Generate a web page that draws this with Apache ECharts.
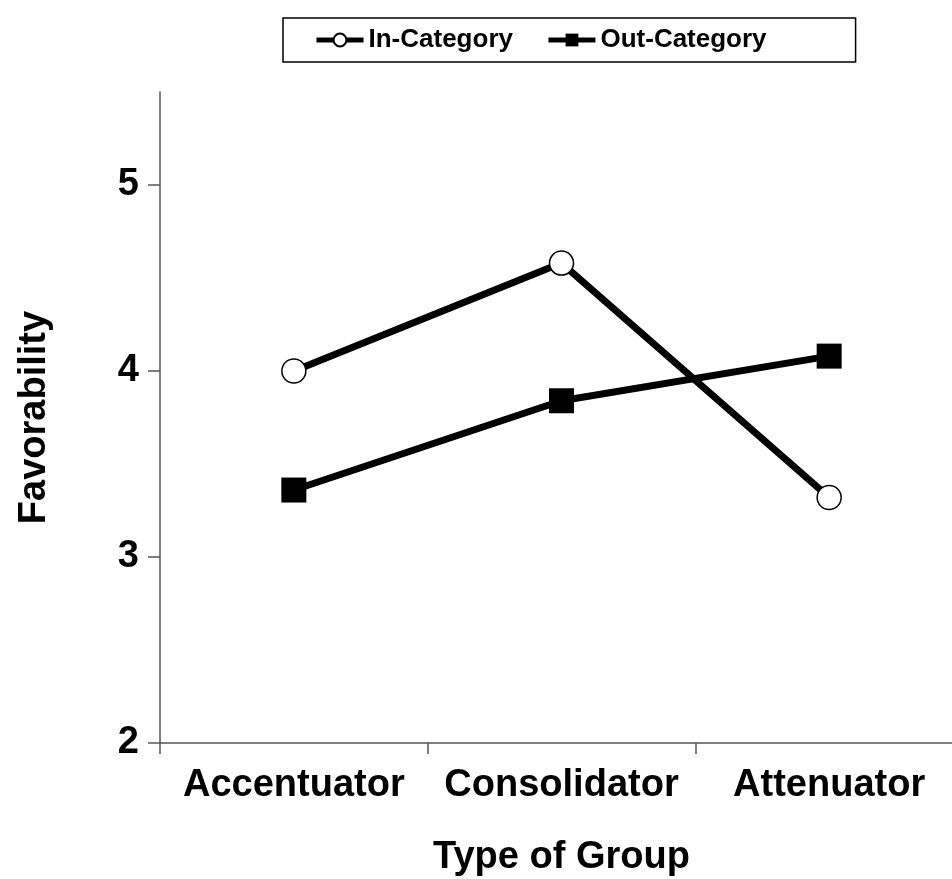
<!DOCTYPE html>
<html>
<head>
<meta charset="utf-8">
<script src="https://cdn.jsdelivr.net/npm/echarts@6/dist/echarts.min.js"></script>
<style>
html,body{margin:0;padding:0;background:#fff;}
#chart{width:952px;height:879px;}
</style>
</head>
<body>
<div id="chart"></div>
<script>
var categories = ['Accentuator', 'Consolidator', 'Attenuator'];
var inCategory = [4.00, 4.58, 3.32];
var outCategory = [3.36, 3.84, 4.08];
var yTicks = [2, 3, 4, 5];

var FONT = '"Liberation Sans", Arial, sans-serif';
var chart = echarts.init(document.getElementById('chart'));
chart.setOption({
  animation: false,
  backgroundColor: '#ffffff',
  textStyle: { fontFamily: FONT },
  legend: {
    left: 283, top: 18,
    padding: [9, 89, 9, 31],
    borderColor: '#000', borderWidth: 1.5,
    itemWidth: 47, itemHeight: 16, itemGap: 33,
    lineStyle: { width: 5, color: '#000' },
    textStyle: { fontFamily: FONT, fontSize: 26, fontWeight: 'bold', color: '#000' },
    data: ['In-Category', 'Out-Category']
  },
  grid: { left: 160, top: 92, width: 803, height: 651, outerBoundsMode: 'none', containLabel: false },
  xAxis: {
    type: 'category',
    data: categories,
    boundaryGap: true,
    axisLine: { lineStyle: { color: '#555', width: 1.5 } },
    axisTick: { show: true, interval: 0, length: 11, lineStyle: { color: '#555', width: 1.5 } },
    axisLabel: { interval: 0, hideOverlap: false, margin: 24, fontFamily: FONT, fontSize: 38, fontWeight: 'bold', color: '#000' },
    name: 'Type of Group',
    nameLocation: 'middle',
    nameGap: 96,
    nameTextStyle: { fontFamily: FONT, fontSize: 38, fontWeight: 'bold', color: '#000' }
  },
  yAxis: {
    type: 'value',
    min: 2, max: 5.5, interval: 1,
    splitLine: { show: false },
    axisLine: { show: true, lineStyle: { color: '#555', width: 1.5 } },
    axisTick: { show: true, length: 12, customValues: yTicks, lineStyle: { color: '#555', width: 1.5 } },
    axisLabel: { margin: 21, customValues: yTicks, fontFamily: FONT, fontSize: 38, fontWeight: 'bold', color: '#000' },
    name: 'Favorability',
    nameLocation: 'middle',
    nameGap: 106,
    nameTextStyle: { fontFamily: FONT, fontSize: 38, fontWeight: 'bold', color: '#000' }
  },
  series: [
    {
      name: 'In-Category',
      type: 'line',
      data: inCategory,
      symbol: 'circle',
      symbolSize: 24,
      z: 3,
      itemStyle: { color: '#fff', borderColor: '#000', borderWidth: 1.5 },
      lineStyle: { color: '#000', width: 7 }
    },
    {
      name: 'Out-Category',
      type: 'line',
      data: outCategory,
      symbol: 'rect',
      symbolSize: 25,
      z: 2,
      itemStyle: { color: '#000' },
      lineStyle: { color: '#000', width: 7 }
    }
  ]
});
</script>
</body>
</html>
